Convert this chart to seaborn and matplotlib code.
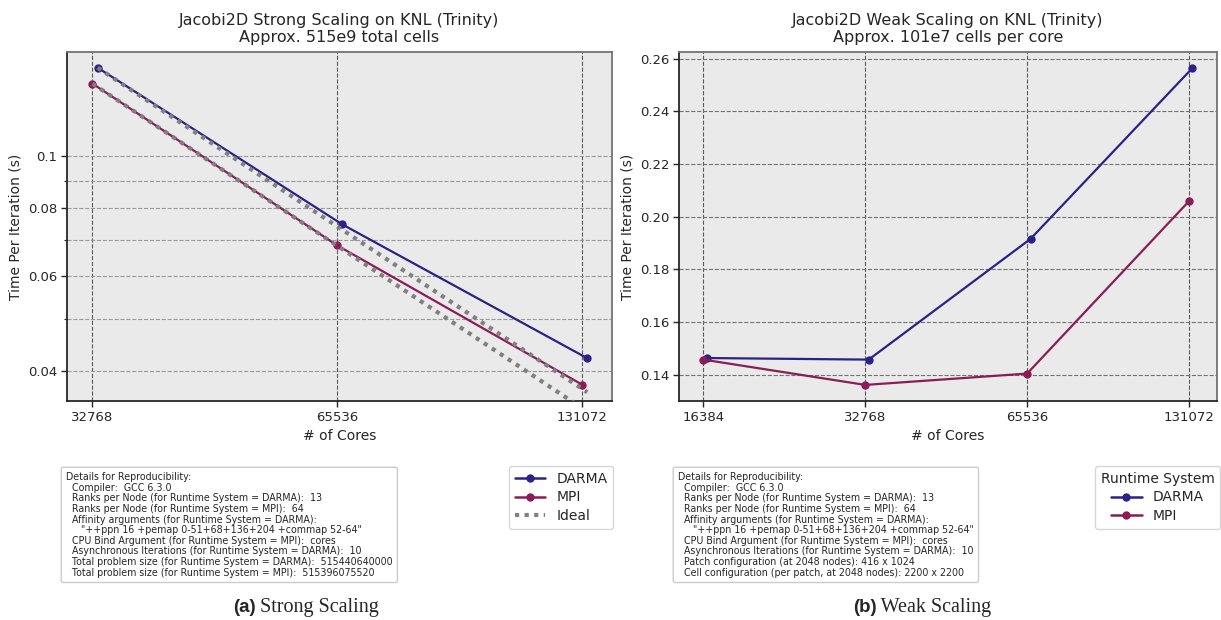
import numpy as np
import pandas as pd
import matplotlib
matplotlib.use("Agg")
import matplotlib.pyplot as plt
import seaborn as sns
from matplotlib.lines import Line2D
from matplotlib.ticker import NullFormatter, NullLocator

# ---------------- data ----------------
systems = ["DARMA", "MPI"]

strong_cores = [32768, 65536, 131072]
strong_darma = [0.1459, 0.0747, 0.0422]
strong_mpi = [0.1363, 0.0683, 0.0377]
strong_ideal_darma = [0.1459, 0.0730, 0.0365]
strong_ideal_mpi = [0.1363, 0.0682, 0.0341]

weak_cores = [16384, 32768, 65536, 131072]
weak_darma = [0.1464, 0.1458, 0.1916, 0.2564]
weak_mpi = [0.1458, 0.1362, 0.1405, 0.2059]

strong_yticks = [0.04, 0.06, 0.08, 0.1]
strong_yticklabels = ["0.04", "0.06", "0.08", "0.1"]
strong_yminor = [0.05, 0.07, 0.09]
weak_yticks = [0.14, 0.16, 0.18, 0.20, 0.22, 0.24, 0.26]

strong_title = "Jacobi2D Strong Scaling on KNL (Trinity)\nApprox. 515e9 total cells"
weak_title = "Jacobi2D Weak Scaling on KNL (Trinity)\nApprox. 101e7 cells per core"

strong_details = (
    "Details for Reproducibility:\n"
    "  Compiler:  GCC 6.3.0\n"
    "  Ranks per Node (for Runtime System = DARMA):  13\n"
    "  Ranks per Node (for Runtime System = MPI):  64\n"
    "  Affinity arguments (for Runtime System = DARMA):\n"
    "     \"++ppn 16 +pemap 0-51+68+136+204 +commap 52-64\"\n"
    "  CPU Bind Argument (for Runtime System = MPI):  cores\n"
    "  Asynchronous Iterations (for Runtime System = DARMA):  10\n"
    "  Total problem size (for Runtime System = DARMA):  515440640000\n"
    "  Total problem size (for Runtime System = MPI):  515396075520"
)
weak_details = (
    "Details for Reproducibility:\n"
    "  Compiler:  GCC 6.3.0\n"
    "  Ranks per Node (for Runtime System = DARMA):  13\n"
    "  Ranks per Node (for Runtime System = MPI):  64\n"
    "  Affinity arguments (for Runtime System = DARMA):\n"
    "     \"++ppn 16 +pemap 0-51+68+136+204 +commap 52-64\"\n"
    "  CPU Bind Argument (for Runtime System = MPI):  cores\n"
    "  Asynchronous Iterations (for Runtime System = DARMA):  10\n"
    "  Patch configuration (at 2048 nodes): 416 x 1024\n"
    "  Cell configuration (per patch, at 2048 nodes): 2200 x 2200"
)

# ---------------- style ----------------
colors = {"DARMA": "#2c2286", "MPI": "#8a1d56"}
ideal_color = "#808080"
dodge = {"DARMA": 2 ** 0.021, "MPI": 1.0}

sns.set_theme(style="ticks")
plt.rcParams["font.family"] = ["DejaVu Sans"]

W, H = 1221, 620
fig = plt.figure(figsize=(W / 100, H / 100), dpi=100)


def px_axes(l, t, r, b):
    return fig.add_axes([l / W, 1 - b / H, (r - l) / W, (b - t) / H])


ax1 = px_axes(67, 52, 612, 401)
ax2 = px_axes(679, 52, 1217, 401)


def long_df(cores, series):
    rows = []
    for s, vals in zip(systems, series):
        for c, v in zip(cores, vals):
            rows.append({"cores": c, "x": c * dodge[s], "time": v, "Runtime System": s})
    return pd.DataFrame(rows)


def style_axes(ax):
    ax.set_facecolor("#EAEAEA")
    for side in ["left", "bottom"]:
        ax.spines[side].set_color("0.15")
        ax.spines[side].set_linewidth(1.3)
    for side in ["top", "right"]:
        ax.spines[side].set_color("0.45")
        ax.spines[side].set_linewidth(1.3)
    ax.tick_params(axis="both", which="major", labelsize=9.5, length=4, width=1, color="0.15", pad=3)
    ax.tick_params(axis="y", which="minor", length=2.5, width=0.8, color="0.15")
    ax.set_axisbelow(True)


# ---------------- strong scaling ----------------
df_s = long_df(strong_cores, [strong_darma, strong_mpi])
ideal_s = [strong_ideal_darma, strong_ideal_mpi]
for s, vals in zip(systems, ideal_s):
    ax1.plot([c * dodge[s] for c in strong_cores], vals, color=ideal_color,
             linestyle=(0, (1, 1.3)), linewidth=3, zorder=3)
sns.lineplot(data=df_s, x="x", y="time", hue="Runtime System", palette=colors,
             marker="o", markersize=6, markeredgewidth=0, linewidth=1.6,
             ax=ax1, legend=False, zorder=2)
ax1.set_xscale("log", base=2)
ax1.set_yscale("log")
ax1.set_xlim(32768 * 2 ** -0.104, 131072 * 2 ** 0.122)
ax1.set_ylim(0.03516, 0.156)
ax1.set_xticks(strong_cores)
ax1.set_xticklabels([str(c) for c in strong_cores])
ax1.xaxis.set_minor_locator(NullLocator())
ax1.set_yticks(strong_yticks)
ax1.set_yticklabels(strong_yticklabels)
ax1.set_yticks(strong_yminor, minor=True)
ax1.yaxis.set_minor_formatter(NullFormatter())
ax1.grid(True, which="major", axis="x", linestyle="--", color="0.35", linewidth=0.8)
ax1.grid(True, which="both", axis="y", linestyle="--", color="0.6", linewidth=0.8)
style_axes(ax1)
ax1.set_title(strong_title, fontsize=11.5, pad=7)
ax1.set_xlabel("# of Cores", fontsize=10)
ax1.set_ylabel("Time Per Iteration (s)", fontsize=10)

# ---------------- weak scaling ----------------
df_w = long_df(weak_cores, [weak_darma, weak_mpi])
sns.lineplot(data=df_w, x="x", y="time", hue="Runtime System", palette=colors,
             marker="o", markersize=6, markeredgewidth=0, linewidth=1.6,
             ax=ax2, legend=False)
ax2.set_xscale("log", base=2)
ax2.set_xlim(16384 * 2 ** -0.151, 131072 * 2 ** 0.173)
ax2.set_ylim(0.1301, 0.2625)
ax2.set_xticks(weak_cores)
ax2.set_xticklabels([str(c) for c in weak_cores])
ax2.xaxis.set_minor_locator(NullLocator())
ax2.set_yticks(weak_yticks)
ax2.set_yticklabels([f"{v:.2f}" for v in weak_yticks])
ax2.grid(True, which="major", axis="x", linestyle="--", color="0.35", linewidth=0.8)
ax2.grid(True, which="major", axis="y", linestyle="--", color="0.45", linewidth=0.8)
style_axes(ax2)
ax2.set_title(weak_title, fontsize=11.5, pad=7)
ax2.set_xlabel("# of Cores", fontsize=10)
ax2.set_ylabel("Time Per Iteration (s)", fontsize=10)

# ---------------- details boxes ----------------
box = dict(boxstyle="round,pad=0.5,rounding_size=0.2", facecolor="white", edgecolor="0.8", linewidth=1)
fig.text(66 / W, 1 - 472 / H, strong_details, fontsize=6.85, va="top", ha="left",
         linespacing=1.08, bbox=box)
fig.text(678 / W, 1 - 472 / H, weak_details, fontsize=6.85, va="top", ha="left",
         linespacing=1.08, bbox=box)

# ---------------- legends ----------------
def handle(s):
    return Line2D([], [], color=colors[s], marker="o", markersize=6, markeredgewidth=0, linewidth=1.8)

h1 = [handle(s) for s in systems] + [Line2D([], [], color=ideal_color, linestyle=(0, (1, 1.3)), linewidth=3)]
fig.legend(h1, systems + ["Ideal"], loc="upper right", bbox_to_anchor=(613 / W, 1 - 466 / H),
           borderaxespad=0, fontsize=10, frameon=True, fancybox=True, edgecolor="0.8",
           handlelength=2.2, borderpad=0.4, labelspacing=0.35, handletextpad=0.8)
fig.legend([handle(s) for s in systems], systems, title="Runtime System",
           loc="upper right", bbox_to_anchor=(1220 / W, 1 - 466 / H), borderaxespad=0,
           fontsize=10, title_fontsize=10, frameon=True, fancybox=True, edgecolor="0.8",
           handlelength=2.2, borderpad=0.4, labelspacing=0.35, handletextpad=0.8)

# ---------------- captions ----------------
fig.canvas.draw()
renderer = fig.canvas.get_renderer()


def caption(letter, name, cx, baseline):
    t1 = fig.text(0, 1 - baseline / H, f"({letter})", fontsize=13.5, fontweight="bold",
                  family=["Liberation Sans"], va="baseline", ha="left")
    t2 = fig.text(0, 1 - baseline / H, " " + name, fontsize=14.5, family=["Liberation Serif"],
                  va="baseline", ha="left")
    w1 = t1.get_window_extent(renderer).width
    w2 = t2.get_window_extent(renderer).width
    start = cx - (w1 + w2) / 2
    t1.set_x(start / W)
    t2.set_x((start + w1) / W)


caption("a", "Strong Scaling", 306, 612)
caption("b", "Weak Scaling", 922, 612)

fig.savefig("out.png", dpi=100)
